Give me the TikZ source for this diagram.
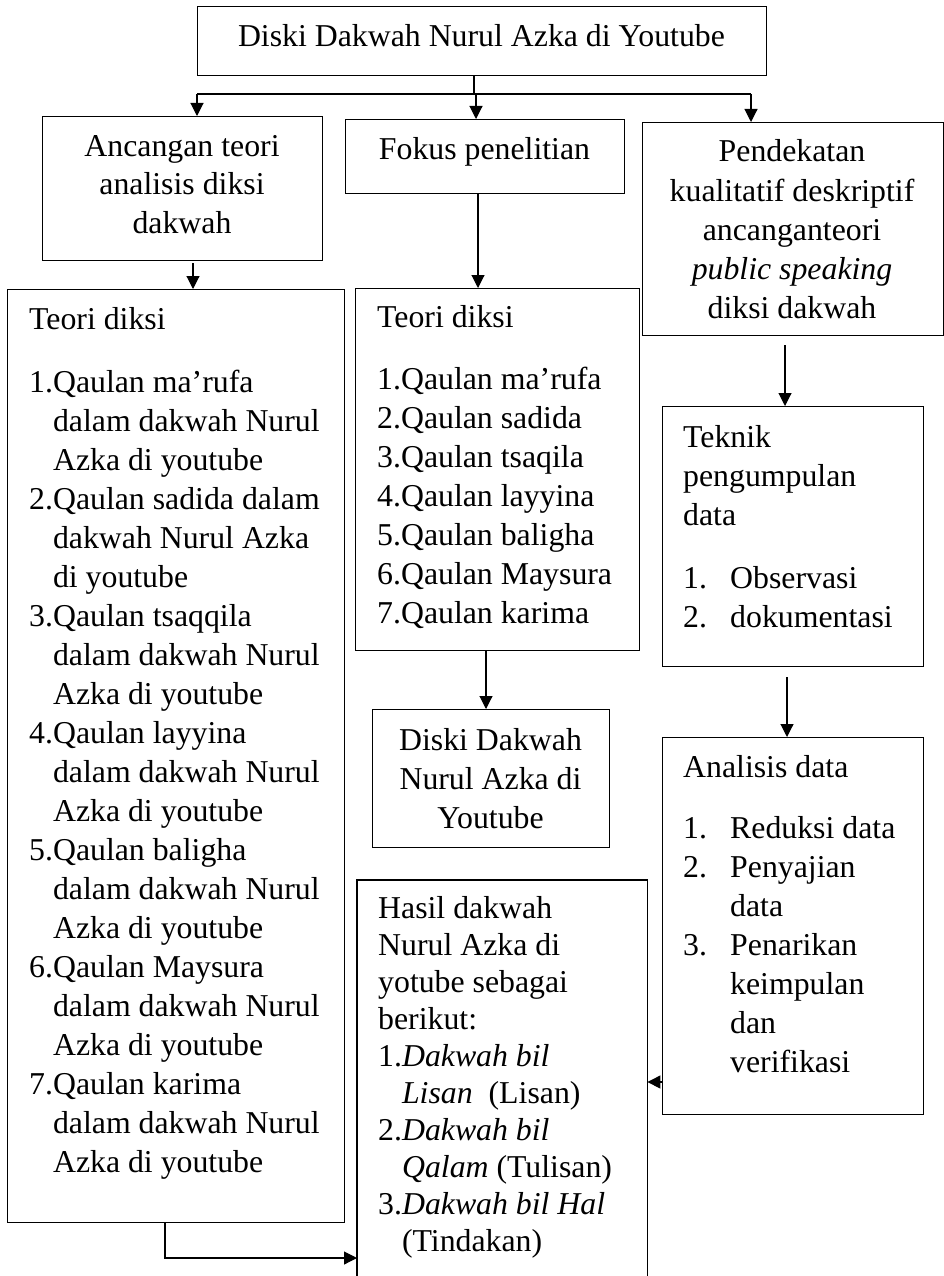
\documentclass[tikz,border=0pt]{standalone}
\usepackage{fontspec}
\setmainfont{Liberation Serif}
\usetikzlibrary{arrows.meta}
\newcommand\fs{\fontsize{31.8}{39}\selectfont}
\tikzset{
  box/.style={draw, line width=1.2pt, inner sep=0pt, anchor=north west},
  openbox/.style={inner sep=0pt, anchor=north west},
  txt/.style={inner sep=0pt, font=\fs, anchor=base west},
  ctxt/.style={inner sep=0pt, font=\fs, anchor=base},
  conn/.style={line width=1.1pt},
  arr/.style={conn, -{Triangle[length=13pt,width=13pt]}}
}
\begin{document}
\begin{tikzpicture}[x=1pt,y=-1pt]
\useasboundingbox (0,0) rectangle (944,1276);
% boxes
\node[box, minimum width=569pt, minimum height=69pt] (top) at (197,6) {};
\node[box, minimum width=280pt, minimum height=144pt] (anc) at (42,116) {};
\node[box, minimum width=279pt, minimum height=74pt] (fok) at (345,119) {};
\node[box, minimum width=301pt, minimum height=213pt] (pen) at (642,122) {};
\node[box, minimum width=337pt, minimum height=933pt] (teoL) at (7,289) {};
\node[box, minimum width=284pt, minimum height=362pt] (teoM) at (355,288) {};
\node[box, minimum width=237pt, minimum height=138pt] (dis) at (372,709) {};
\node[box, minimum width=261pt, minimum height=260pt] (tek) at (662,406) {};
\node[box, minimum width=261pt, minimum height=377pt] (ana) at (662,737) {};
\node[openbox, minimum width=290pt, minimum height=396pt] (has) at (357,880) {};
\draw[line width=1.2pt] (has.south west) |- (has.north east) -- (has.south east);

% texts
\node[ctxt] (ttop) at (481.5,47) {Diski Dakwah Nurul Azka di Youtube};
\foreach \t [count=\i from 0] in {{Ancangan teori},{analisis diksi},{dakwah}}
  \node[ctxt] (ta\i) at (182,{157+38*\i}) {\t};
\node[ctxt] (tf) at (484.5,160) {Fokus penelitian};
\foreach \t [count=\i from 0] in {{Pendekatan},{kualitatif deskriptif},{ancanganteori},{\textit{public speaking}},{diksi dakwah}}
  \node[ctxt] (tp\i) at (792,{162+39*\i}) {\t};
\node[txt] (tlh) at (29,329) {Teori diksi};
\foreach \t [count=\i from 0] in {
  {1.Qaulan ma’rufa},{\phantom{1.}dalam dakwah Nurul},{\phantom{1.}Azka di youtube},
  {2.Qaulan sadida dalam},{\phantom{2.}dakwah Nurul Azka},{\phantom{2.}di youtube},
  {3.Qaulan tsaqqila},{\phantom{3.}dalam dakwah Nurul},{\phantom{3.}Azka di youtube},
  {4.Qaulan layyina},{\phantom{4.}dalam dakwah Nurul},{\phantom{4.}Azka di youtube},
  {5.Qaulan baligha},{\phantom{5.}dalam dakwah Nurul},{\phantom{5.}Azka di youtube},
  {6.Qaulan Maysura},{\phantom{6.}dalam dakwah Nurul},{\phantom{6.}Azka di youtube},
  {7.Qaulan karima},{\phantom{7.}dalam dakwah Nurul},{\phantom{7.}Azka di youtube}}
  \node[txt] (tl\i) at (29,{392+39*\i}) {\t};
\node[txt] (tmh) at (377,327) {Teori diksi};
\foreach \t [count=\i from 0] in {{1.Qaulan ma’rufa},{2.Qaulan sadida},{3.Qaulan tsaqila},{4.Qaulan layyina},{5.Qaulan baligha},{6.Qaulan Maysura},{7.Qaulan karima}}
  \node[txt] (tm\i) at (377,{389+39*\i}) {\t};
\foreach \t [count=\i from 0] in {{Diski Dakwah},{Nurul Azka di},{Youtube}}
  \node[ctxt] (td\i) at (490.5,{750+39*\i}) {\t};
\foreach \t [count=\i from 0] in {{Teknik},{pengumpulan},{data}}
  \node[txt] (tt\i) at (683,{447+39*\i}) {\t};
\node[txt] (tn1) at (683,588) {1.};
\node[txt] (tx1) at (730,588) {Observasi};
\node[txt] (tn2) at (683,627) {2.};
\node[txt] (tx2) at (730,627) {dokumentasi};
\node[txt] (tah) at (683,777) {Analisis data};
\node[txt] (an1) at (683,838) {1.};
\node[txt] (an2) at (683,877) {2.};
\node[txt] (an3) at (683,955) {3.};
\foreach \t [count=\i from 0] in {{Reduksi data},{Penyajian},{data},{Penarikan},{keimpulan},{dan},{verifikasi}}
  \node[txt] (ax\i) at (730,{838+39*\i}) {\t};
\foreach \t [count=\i from 0] in {{Hasil dakwah},{Nurul Azka di},{yotube sebagai},{berikut:},
  {1.\textit{Dakwah bil}},{\phantom{1.}\textit{Lisan}\ \ (Lisan)},{2.\textit{Dakwah bil}},
  {\phantom{2.}\textit{Qalam} (Tulisan)},{3.\textit{Dakwah bil Hal}},{\phantom{3.}(Tindakan)}}
  \node[txt] (th\i) at (378,{918+37*\i}) {\t};

% connectors
\coordinate (j) at (474,94);
\coordinate (bl) at (197,94);
\coordinate (bm) at (476,94);
\coordinate (br) at (751,94);
\draw[conn] (top.south -| j) -- (j);
\draw[conn] (bl) -- (br);
\draw[arr] (bl) -- (bl |- anc.north);
\draw[arr] (bm) -- (bm |- fok.north);
\draw[arr] (br) -- (br |- pen.north);
\coordinate (ca) at (193,263);
\draw[arr] (ca) -- (ca |- teoL.north);
\coordinate (cf) at (478,193);
\draw[arr] (cf |- fok.south) -- (cf |- teoM.north);
\coordinate (cm) at (486,650);
\draw[arr] (cm |- teoM.south) -- (cm |- dis.north);
\coordinate (cp) at (785,345);
\draw[arr] (cp) -- (cp |- tek.north);
\coordinate (ct) at (787,677);
\draw[arr] (ct) -- (ct |- ana.north);
\coordinate (cn) at (662,1082);
\draw[arr] (cn) -- (cn -| has.east);
\coordinate (cl) at (165,1258);
\draw[arr] (cl |- teoL.south) -- (cl) -- (cl -| has.west);
\end{tikzpicture}
\end{document}
